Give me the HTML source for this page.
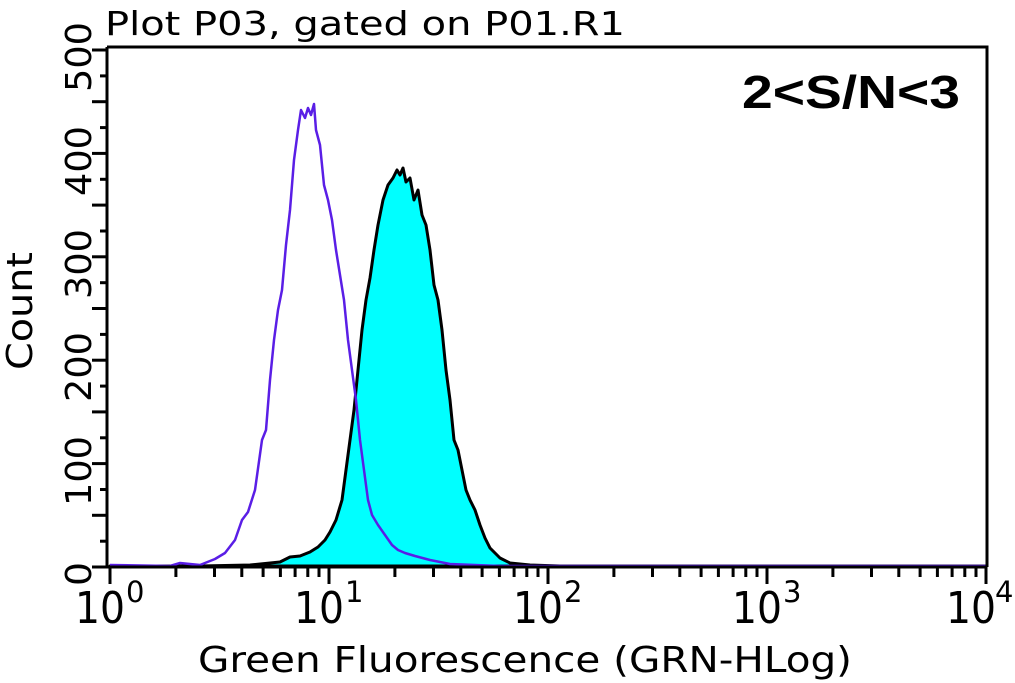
<!DOCTYPE html>
<html><head><meta charset="utf-8"><style>
html,body{margin:0;padding:0;background:#fff;}
svg{display:block;font-family:"DejaVu Sans","Liberation Sans",sans-serif;}
</style></head><body>
<svg width="1015" height="683" viewBox="0 0 1015 683" xmlns="http://www.w3.org/2000/svg">
<defs>
<g id="dec" stroke="#000" stroke-width="3">
<line x1="0" y1="567" x2="0" y2="584"/>
<line x1="65.9" y1="567" x2="65.9" y2="577"/>
<line x1="104.5" y1="567" x2="104.5" y2="577"/>
<line x1="131.8" y1="567" x2="131.8" y2="577"/>
<line x1="153.1" y1="567" x2="153.1" y2="577"/>
<line x1="170.4" y1="567" x2="170.4" y2="577"/>
<line x1="185.1" y1="567" x2="185.1" y2="577"/>
<line x1="197.8" y1="567" x2="197.8" y2="577"/>
<line x1="209" y1="567" x2="209" y2="577"/>
</g>
</defs>
<rect width="1015" height="683" fill="#fff"/>
<text x="105" y="35" font-size="33" textLength="520" lengthAdjust="spacingAndGlyphs" fill="#000">Plot P03, gated on P01.R1</text>
<polygon fill="#00ffff" stroke="#000" stroke-width="3" stroke-linejoin="round" points="110,566 200,566 250,565 280,562 290,557 300,556 310,552 318,547 325,540 330,532 336,520 342,500 346,470 350,440 354,410 358,370 362,330 366,300 370,278 374,250 378,225 383,200 388,185 393,178 397,170 400,175 403,168 406,182 410,178 414,200 418,190 422,215 426,225 430,250 434,285 438,300 442,330 446,370 450,400 454,440 458,450 462,470 466,490 470,500 475,510 480,525 485,538 490,548 495,553 500,558 510,563 530,565 560,566 700,566 986,566"/>
<polyline fill="none" stroke="#5a1ee6" stroke-width="2.5" stroke-linejoin="round" points="110,565 170,566 180,563 200,565 215,559 225,553 235,540 242,520 248,512 255,490 262,440 266,430 270,380 274,340 278,310 282,290 286,245 290,210 294,160 298,130 301,110 305,118 308,108 311,115 314,104 316,130 320,145 324,185 328,200 332,220 336,250 340,275 344,300 348,340 352,370 356,400 360,440 364,470 368,500 372,515 378,525 385,535 392,545 398,550 405,553 415,556 430,560 450,564 500,566 986,566"/>
<path d="M107,47 H987 V567 M107,47 V567 H987" fill="none" stroke="#000" stroke-width="3"/>
<g stroke="#000" stroke-width="3">
<line x1="92" y1="567" x2="107" y2="567"/><line x1="100" y1="541.2" x2="107" y2="541.2"/>
<line x1="92" y1="515.3" x2="107" y2="515.3"/><line x1="100" y1="489.5" x2="107" y2="489.5"/>
<line x1="92" y1="463.6" x2="107" y2="463.6"/><line x1="100" y1="437.8" x2="107" y2="437.8"/>
<line x1="92" y1="411.9" x2="107" y2="411.9"/><line x1="100" y1="386.1" x2="107" y2="386.1"/>
<line x1="92" y1="360.2" x2="107" y2="360.2"/><line x1="100" y1="334.4" x2="107" y2="334.4"/>
<line x1="92" y1="308.5" x2="107" y2="308.5"/><line x1="100" y1="282.7" x2="107" y2="282.7"/>
<line x1="92" y1="256.8" x2="107" y2="256.8"/><line x1="100" y1="231" x2="107" y2="231"/>
<line x1="92" y1="205.1" x2="107" y2="205.1"/><line x1="100" y1="179.3" x2="107" y2="179.3"/>
<line x1="92" y1="153.4" x2="107" y2="153.4"/><line x1="100" y1="127.6" x2="107" y2="127.6"/>
<line x1="92" y1="101.7" x2="107" y2="101.7"/><line x1="100" y1="75.9" x2="107" y2="75.9"/>
<line x1="92" y1="50" x2="107" y2="50"/>
<line x1="986" y1="567" x2="986" y2="584"/>
</g>
<use href="#dec" x="110"/>
<use href="#dec" x="329"/>
<use href="#dec" x="548"/>
<use href="#dec" x="767"/>
<g font-size="36" fill="#000" text-anchor="middle">
<text transform="translate(91,574) rotate(-90)" textLength="24" lengthAdjust="spacingAndGlyphs">0</text>
<text transform="translate(91,471) rotate(-90)" textLength="70" lengthAdjust="spacingAndGlyphs">100</text>
<text transform="translate(91,367) rotate(-90)" textLength="70" lengthAdjust="spacingAndGlyphs">200</text>
<text transform="translate(91,264) rotate(-90)" textLength="70" lengthAdjust="spacingAndGlyphs">300</text>
<text transform="translate(91,161) rotate(-90)" textLength="70" lengthAdjust="spacingAndGlyphs">400</text>
<text transform="translate(91,57) rotate(-90)" textLength="70" lengthAdjust="spacingAndGlyphs">500</text>
<text transform="translate(32,311) rotate(-90)" font-size="36" textLength="118" lengthAdjust="spacingAndGlyphs">Count</text>
</g>
<g font-size="44" fill="#000">
<text x="75" y="623" textLength="50" lengthAdjust="spacingAndGlyphs">10</text><text x="126" y="602" font-size="29">0</text>
<text x="294" y="623" textLength="50" lengthAdjust="spacingAndGlyphs">10</text><text x="345" y="602" font-size="29">1</text>
<text x="513" y="623" textLength="50" lengthAdjust="spacingAndGlyphs">10</text><text x="564" y="602" font-size="29">2</text>
<text x="732" y="623" textLength="50" lengthAdjust="spacingAndGlyphs">10</text><text x="783" y="602" font-size="29">3</text>
<text x="946" y="623" textLength="50" lengthAdjust="spacingAndGlyphs">10</text><text x="995" y="602" font-size="29">4</text>
</g>
<text x="198" y="672" font-size="36" textLength="654" lengthAdjust="spacingAndGlyphs" fill="#000">Green Fluorescence (GRN-HLog)</text>
<text x="742" y="108" font-size="46" font-weight="bold" textLength="218" lengthAdjust="spacingAndGlyphs" fill="#000" font-family="Liberation Sans, sans-serif">2&lt;S/N&lt;3</text>
</svg>
</body></html>
